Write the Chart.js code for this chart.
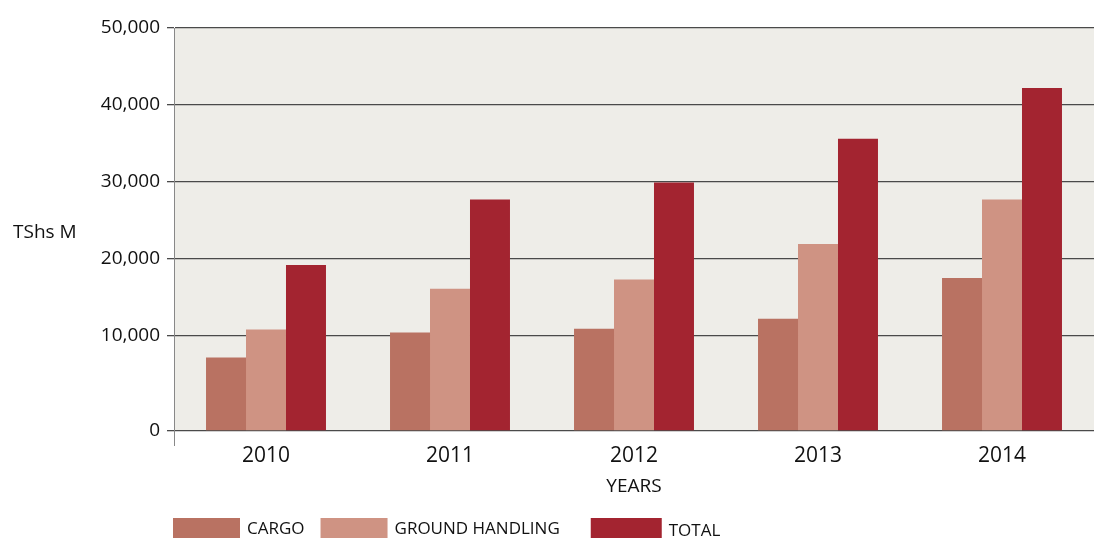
<!DOCTYPE html>
<html>
<head>
<meta charset="utf-8">
<script src="https://cdn.jsdelivr.net/npm/chart.js@4.4.1/dist/chart.umd.min.js"></script>
<style>
  html, body { margin: 0; padding: 0; background: #fff; }
  #wrap { width: 1094px; height: 538px; }
</style>
</head>
<body>
<div id="wrap"><canvas id="revenueChart"></canvas></div>
<script>
const years = ['2010', '2011', '2012', '2013', '2014'];
const cargo = [7700, 10400, 10900, 12200, 17500];
const groundHandling = [10800, 16100, 17300, 21900, 27700];
const total = [19200, 27700, 29900, 35600, 42200];
const seriesNames = ['CARGO', 'GROUND HANDLING', 'TOTAL'];
const yTicks = [0, 10000, 20000, 30000, 40000, 50000];

// linear axis whose lowest band (0 - firstBand) is drawn taller than the others
class BandedScale extends Chart.LinearScale {
  toUnits(value) {
    const band = this.options.firstBand || 10000;
    const stretch = this.options.firstStretch || 1;
    if (value <= band) return value / band * stretch;
    return stretch + (value - band) / band;
  }
  fromUnits(u) {
    const band = this.options.firstBand || 10000;
    const stretch = this.options.firstStretch || 1;
    if (u <= stretch) return u / stretch * band;
    return band + (u - stretch) * band;
  }
  getPixelForValue(value) {
    if (value === null || value === undefined || isNaN(value)) return NaN;
    const lo = this.toUnits(this.min);
    const hi = this.toUnits(this.max);
    return this.getPixelForDecimal((this.toUnits(value) - lo) / (hi - lo));
  }
  getValueForPixel(pixel) {
    const lo = this.toUnits(this.min);
    const hi = this.toUnits(this.max);
    return this.fromUnits(lo + this.getDecimalForPixel(pixel) * (hi - lo));
  }
}
BandedScale.id = 'banded';
BandedScale.defaults = Chart.LinearScale.defaults;
Chart.register(BandedScale);

Chart.defaults.font.family = "'Open Sans', sans-serif";
Chart.defaults.color = '#111';

const plotBackground = {
  id: 'plotBackground',
  beforeDraw(chart) {
    const { ctx, chartArea } = chart;
    ctx.save();
    ctx.fillStyle = '#eeede8';
    ctx.fillRect(chartArea.left, chartArea.top, chartArea.right - chartArea.left, chartArea.bottom - chartArea.top);
    ctx.restore();
  }
};

// horizontal unit label to the left of the value axis
const unitLabel = {
  id: 'unitLabel',
  afterDraw(chart) {
    const { ctx, chartArea } = chart;
    ctx.save();
    ctx.font = "19px 'Open Sans', sans-serif";
    ctx.fillStyle = '#111';
    ctx.textBaseline = 'middle';
    ctx.fillText('TShs M', 13, (chartArea.top + chartArea.bottom) / 2 + 3);
    ctx.restore();
  }
};

// row of colour boxes under the axis title
const boxLegend = {
  id: 'boxLegend',
  afterDraw(chart) {
    const ctx = chart.ctx;
    const boxW = 67, boxH = 20;
    const gaps = [16, 31];
    const y = chart.height - boxH;
    let x = chart.chartArea.left - 1;
    ctx.save();
    ctx.font = "17px 'Open Sans', sans-serif";
    ctx.textBaseline = 'middle';
    chart.data.datasets.forEach((ds, i) => {
      const w = i === 2 ? boxW + 4 : boxW;
      ctx.fillStyle = ds.backgroundColor;
      ctx.fillRect(x, y, w, boxH);
      x += w + 7;
      ctx.fillStyle = '#111';
      ctx.fillText(ds.label, x, y + boxH / 2 + (i === 2 ? 3 : 1));
      x += ctx.measureText(ds.label).width + (gaps[i] || 0);
    });
    ctx.restore();
  }
};

new Chart(document.getElementById('revenueChart').getContext('2d'), {
  type: 'bar',
  data: {
    labels: years,
    datasets: [
      { label: seriesNames[0], data: cargo, backgroundColor: '#b97262' },
      { label: seriesNames[1], data: groundHandling, backgroundColor: '#cf9383' },
      { label: seriesNames[2], data: total, backgroundColor: '#a32430' }
    ]
  },
  options: {
    responsive: true,
    maintainAspectRatio: false,
    animation: false,
    datasets: {
      bar: { barPercentage: 1, categoryPercentage: 0.652, borderWidth: 0 }
    },
    layout: { padding: { top: 28, right: 0, bottom: 36, left: 0 } },
    plugins: {
      legend: { display: false },
      tooltip: { enabled: false }
    },
    scales: {
      x: {
        grid: {
          drawOnChartArea: false,
          drawTicks: true,
          tickLength: 15,
          color: ctx => (ctx.index === 0 ? '#888' : 'rgba(0,0,0,0)')
        },
        border: { display: false },
        ticks: { font: { size: 21 }, padding: -3 },
        title: { display: true, text: 'YEARS', font: { size: 19 }, padding: { top: 10, bottom: 4 } }
      },
      y: {
        type: 'banded',
        firstBand: 10000,
        firstStretch: 1.24,
        min: yTicks[0],
        max: yTicks[yTicks.length - 1],
        afterBuildTicks: scale => { scale.ticks = yTicks.map(v => ({ value: v })); },
        afterFit: scale => { scale.width = 174; },
        grid: { color: '#4a4a4a', lineWidth: 1.3, tickLength: 7, tickColor: '#4a4a4a' },
        border: { display: true, color: '#888', width: 1 },
        ticks: {
          font: { size: 19 },
          padding: 7,
          callback: v => v.toLocaleString('en-US')
        }
      }
    }
  },
  plugins: [plotBackground, unitLabel, boxLegend]
});
</script>
</body>
</html>
